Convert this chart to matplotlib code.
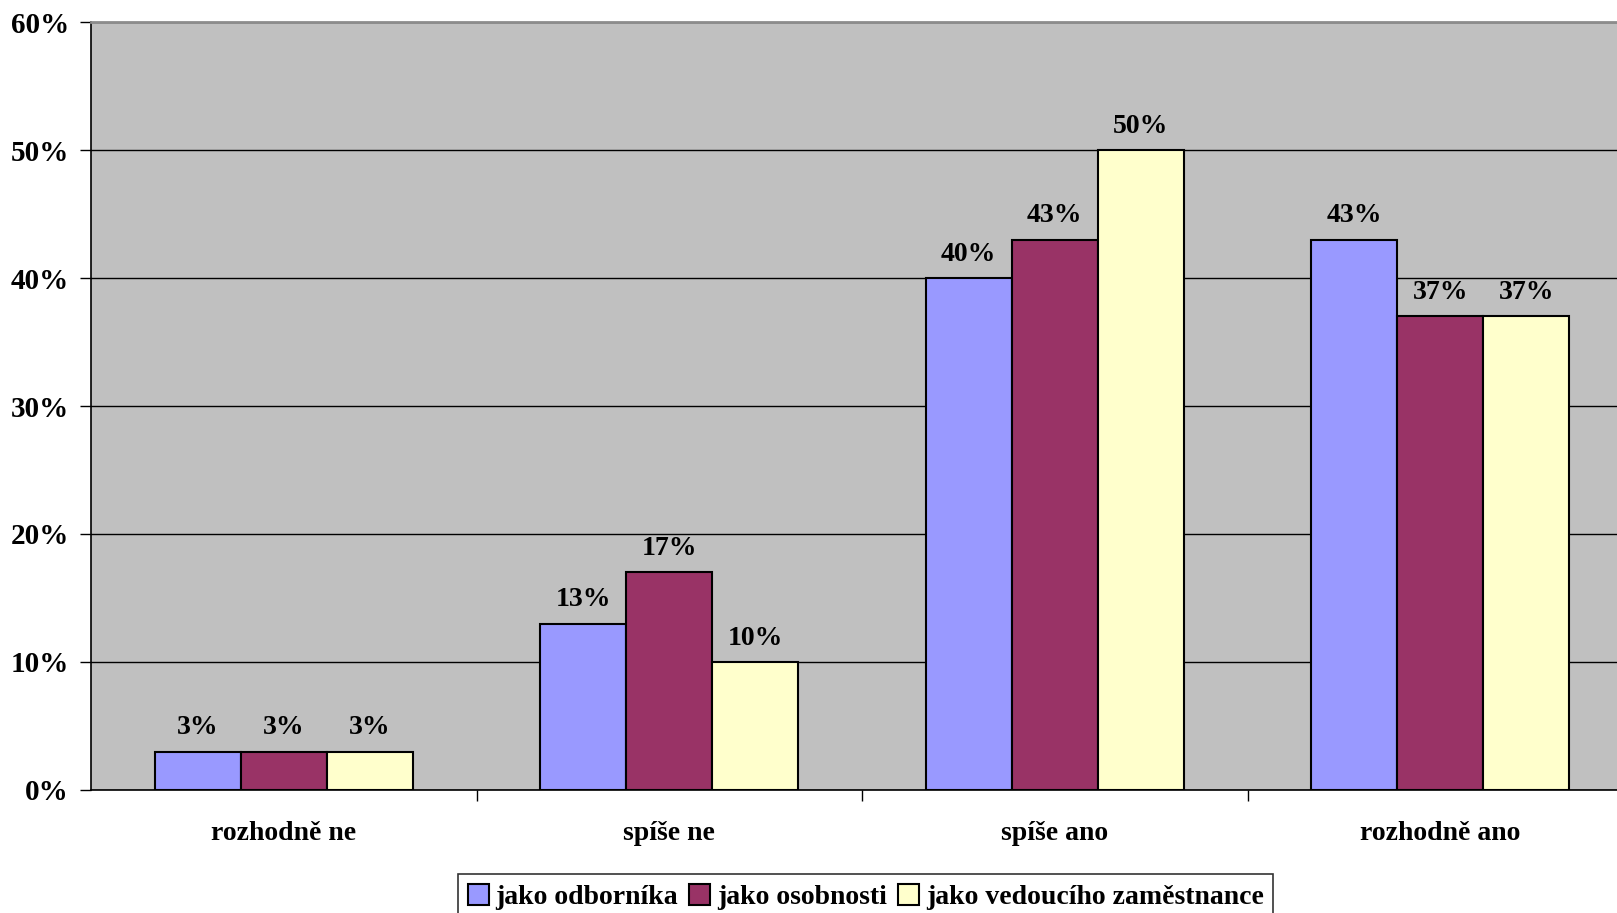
import numpy as np
import matplotlib.pyplot as plt
from matplotlib.ticker import FuncFormatter

# Data
categories = ['rozhodně ne', 'spíše ne', 'spíše ano', 'rozhodně ano']
series_names = ['jako odborníka', 'jako osobnosti', 'jako vedoucího zaměstnance']
odbornika = [3, 13, 40, 43]
osobnosti = [3, 17, 43, 37]
vedouciho = [3, 10, 50, 37]
colors = ['#9999ff', '#993366', '#ffffcc']

plt.rcParams['font.family'] = ['Liberation Serif', 'DejaVu Serif']
plt.rcParams['font.weight'] = 'bold'
FS = 20

fig = plt.figure(figsize=(16.17, 9.13), dpi=100)
# plot area runs a little past the right edge of the figure
ax = fig.add_axes([91 / 1617, 1 - 790 / 913, 1542 / 1617, (790 - 22) / 913])
ax.set_facecolor('#c0c0c0')

x = np.arange(len(categories))
w = 0.223
for i, (vals, name) in enumerate(zip([odbornika, osobnosti, vedouciho], series_names)):
    bars = ax.bar(x + (i - 1) * w, vals, w, color=colors[i], edgecolor='black',
                  linewidth=1.5, label=name, zorder=3)
    for b, v in zip(bars, vals):
        ax.annotate(f'{v}%', (b.get_x() + b.get_width() / 2, v), xytext=(0, 8),
                    textcoords='offset points', ha='center', va='bottom',
                    fontsize=FS, fontweight='bold')

ax.set_xlim(-0.5, 3.5)
ax.set_ylim(0, 60)
ax.set_yticks(range(0, 61, 10))
ax.yaxis.set_major_formatter(FuncFormatter(lambda v, p: f'{int(v)}%'))
ax.grid(axis='y', color='black', linewidth=1.0, zorder=0)
ax.set_axisbelow(True)

# category labels between boundary ticks
ax.set_xticks(np.arange(0.5, 3.5, 1.0))
ax.set_xticklabels([])
ax.set_xticks(x, minor=True)
ax.set_xticklabels(categories, minor=True, fontsize=FS, fontweight='bold')
ax.tick_params(axis='x', which='minor', length=0, pad=22)
ax.tick_params(axis='x', which='major', length=8, width=1, direction='out')
ax.tick_params(axis='y', length=8, width=1, labelsize=FS + 1, pad=8)
for t in ax.get_yticklabels():
    t.set_fontweight('bold')

ax.spines['right'].set_visible(False)
ax.spines['top'].set_color('#8c8c8c')
ax.spines['top'].set_linewidth(2)
ax.spines['left'].set_linewidth(1.2)
ax.spines['bottom'].set_linewidth(1.2)

leg = fig.legend(loc='upper left', bbox_to_anchor=(458 / 1617, 1 - 874 / 913), ncol=3,
                 frameon=True, fancybox=False, edgecolor='black', fontsize=FS,
                 handlelength=0.75, handleheight=0.8, handletextpad=0.25,
                 columnspacing=0.4, borderpad=0.35, borderaxespad=0)
leg.get_frame().set_linewidth(1.2)
for h in leg.legend_handles:
    h.set_linewidth(1.5)

fig.savefig('out.png', dpi=100)
